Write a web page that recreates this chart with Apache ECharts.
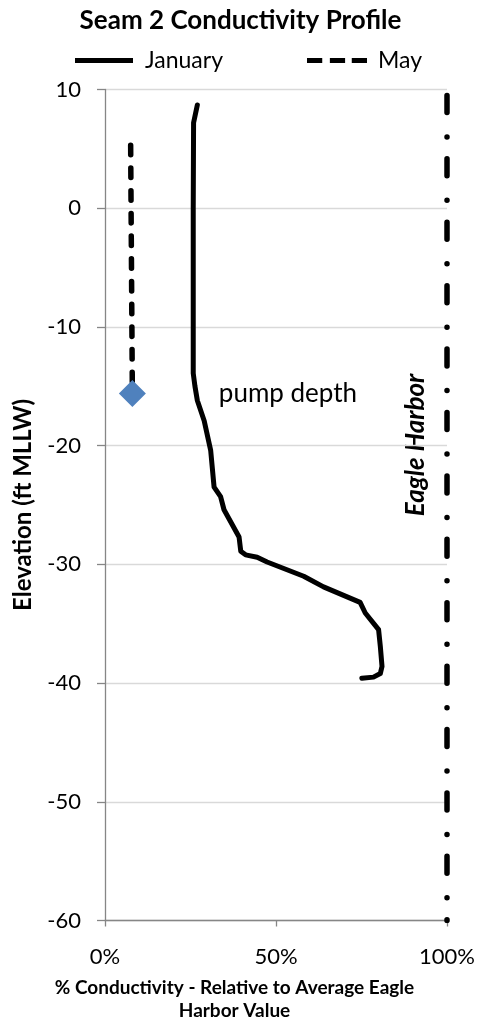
<!DOCTYPE html>
<html>
<head>
<meta charset="utf-8">
<script src="https://cdn.jsdelivr.net/npm/echarts@6/dist/echarts.min.js"></script>
<style>html,body{margin:0;padding:0;background:#fff}#c{width:481px;height:1024px}</style>
</head>
<body>
<div id="c"></div>
<script>
// ---- data ----
const janPct  = [27.0, 25.9, 25.8, 25.8, 25.8, 26.3, 27.0, 29.0, 30.9, 31.9, 33.8, 34.8, 39.2, 39.7, 41.1, 44.5, 47.4, 58.1, 63.9, 74.6, 76.1, 80.0, 80.5, 81.0, 80.5, 78.5, 75.1];
const janElev = [8.7, 7.2, 0, -10, -13.9, -15.0, -16.2, -17.9, -20.4, -23.5, -24.3, -25.4, -27.7, -28.9, -29.2, -29.4, -29.8, -31.0, -31.9, -33.2, -34.1, -35.5, -36.9, -38.6, -39.2, -39.5, -39.6];
const mayPct  = [7.5, 8.0];
const mayElev = [5.3, -15.6];
const eaglePct  = [100, 100];
const eagleElev = [9.5, -60];
const pumpPct  = [8.0];
const pumpElev = [-15.6];
const xTicks = {min: 0, max: 100, step: 50};
const yTicks = {min: -60, max: 10, step: 10};

const zip = (a, b) => a.map((v, i) => [v, b[i]]);
const FONT = 'Lato';

const chart = echarts.init(document.getElementById('c'), null, {renderer: 'canvas'});
chart.setOption({
  backgroundColor: '#fff',
  animation: false,
  textStyle: {fontFamily: FONT, color: '#000'},
  title: {
    text: 'Seam 2 Conductivity Profile',
    left: 'center', top: 3,
    textStyle: {fontFamily: FONT, fontSize: 26, fontWeight: 'bold', color: '#000'}
  },
  legend: {
    data: [
      {name: 'January', icon: 'path://M0,0h58v5h-58z'},
      {name: 'May', icon: 'path://M0,0h16v5h-16z M24,0h16v5h-16z M47,0h16v5h-16z'}
    ],
    left: 70, top: 44,
    itemWidth: 60, itemHeight: 5, itemGap: 84,
    textStyle: {fontFamily: FONT, fontSize: 23, color: '#000', padding: [0, 0, 0, 6]}
  },
  grid: {left: 105, right: 34, top: 89.5, bottom: 103.5, outerBoundsMode: 'none', containLabel: false},
  xAxis: {
    type: 'value', min: xTicks.min, max: xTicks.max, interval: xTicks.step,
    axisLine: {show: true, onZero: false, lineStyle: {color: '#868686', width: 1.3}},
    axisTick: {show: true, length: 6, lineStyle: {color: '#868686', width: 1.3}},
    splitLine: {show: false},
    axisLabel: {formatter: '{value}%', margin: 25, fontSize: 22, color: '#000', fontFamily: FONT},
    name: '% Conductivity - Relative to Average Eagle\nHarbor Value',
    nameLocation: 'middle', nameGap: 56,
    nameTextStyle: {fontFamily: FONT, fontSize: 19, fontWeight: 'bold', color: '#000', lineHeight: 23, padding: [0, 83, 0, 0]}
  },
  yAxis: {
    type: 'value', min: yTicks.min, max: yTicks.max, interval: yTicks.step,
    axisLine: {show: true, onZero: false, lineStyle: {color: '#868686', width: 1.3}},
    axisTick: {show: true, length: 8, lineStyle: {color: '#868686', width: 1.3}},
    splitLine: {show: true, lineStyle: {color: '#d9d9d9', width: 1.3}},
    axisLabel: {margin: 24, fontSize: 22, color: '#000', fontFamily: FONT},
    name: 'Elevation (ft MLLW)',
    nameLocation: 'middle', nameGap: 70, nameRotate: 90,
    nameTextStyle: {fontFamily: FONT, fontSize: 24, fontWeight: 'bold', color: '#000'}
  },
  graphic: [{
    type: 'text', x: 416, y: 445, rotation: Math.PI / 2,
    style: {text: 'Eagle Harbor', fontFamily: FONT, fontSize: 26, fontWeight: 'bold', fontStyle: 'italic',
            fill: '#000', align: 'center', verticalAlign: 'middle'}
  }],
  series: [
    {
      name: 'January', type: 'line', data: zip(janPct, janElev),
      showSymbol: false, symbol: 'none', smooth: false,
      lineStyle: {color: '#000', width: 5, cap: 'round', join: 'round'},
      itemStyle: {color: '#000'}, z: 3
    },
    {
      name: 'May', type: 'line', data: zip(mayPct, mayElev),
      showSymbol: false, symbol: 'none',
      lineStyle: {color: '#000', width: 5.5, type: [9.5, 13.2], cap: 'round'},
      itemStyle: {color: '#000'}, z: 3
    },
    {
      name: 'Eagle Harbor', type: 'line', data: zip(eaglePct, eagleElev),
      showSymbol: false, symbol: 'none',
      lineStyle: {color: '#000', width: 5.5, type: [17, 24.5, 0.01, 21.9], cap: 'round'},
      itemStyle: {color: '#000'}, z: 3
    },
    {
      name: 'pump depth', type: 'scatter', data: zip(pumpPct, pumpElev),
      symbol: 'diamond', symbolSize: 27,
      itemStyle: {color: '#4F81BD', opacity: 1}, z: 5,
      label: {show: true, position: 'right', distance: 73, formatter: 'pump depth',
              fontFamily: FONT, fontSize: 26, color: '#000'}
    }
  ]
});
</script>
</body>
</html>
